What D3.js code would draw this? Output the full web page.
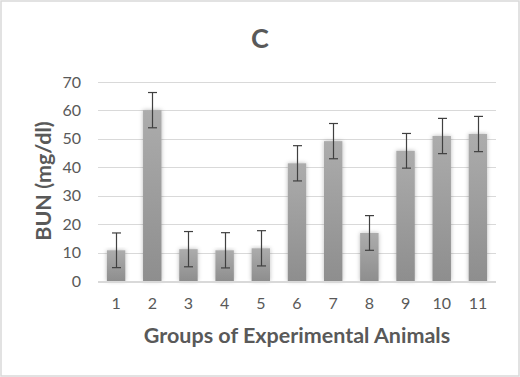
<!DOCTYPE html>
<html><head><meta charset="utf-8">
<script src="https://cdn.jsdelivr.net/npm/d3@7"></script>
<style>
html,body{margin:0;padding:0;background:#fff;}
svg{display:block;}
text{font-family:Lato,"Open Sans",sans-serif;fill:#595959;}
</style></head>
<body>
<svg id="c" width="520" height="377"></svg>
<script>
const groups = ["1","2","3","4","5","6","7","8","9","10","11"];
const bunMean = [10.8, 60.1, 11.2, 10.8, 11.5, 41.4, 49.2, 16.9, 45.8, 51.0, 51.7];
const bunErr  = [6.1, 6.2, 6.2, 6.2, 6.2, 6.2, 6.2, 6.1, 6.1, 6.2, 6.2];
const yTicks = [0,10,20,30,40,50,60,70];

const svg = d3.select("#c");
const W = 520, H = 377;
const m = {left:98, right:24, top:82, bottom:96};

svg.append("rect").attr("x",1).attr("y",1).attr("width",W-2).attr("height",H-2)
  .attr("fill","#fff").attr("stroke","#d9d9d9").attr("stroke-width",1.5);

const defs = svg.append("defs");
const grad = defs.append("linearGradient").attr("id","bg").attr("x1",0).attr("y1",0).attr("x2",0).attr("y2",1);
grad.append("stop").attr("offset","0%").attr("stop-color","#acacac");
grad.append("stop").attr("offset","100%").attr("stop-color","#8e8e8e");
const f = defs.append("filter").attr("id","sh").attr("x","-50%").attr("y","-10%").attr("width","200%").attr("height","120%");
f.append("feDropShadow").attr("dx",0).attr("dy",0).attr("stdDeviation",2.2)
  .attr("flood-color","#000").attr("flood-opacity",0.28);

const x = d3.scaleBand().domain(groups).range([m.left, W-m.right]).paddingInner(0.49).paddingOuter(0.245);
const y = d3.scaleLinear().domain([0,70]).range([H-m.bottom, m.top]);

// gridlines
svg.append("g").selectAll("line").data(yTicks.filter(d=>d>0)).join("line")
  .attr("x1",m.left).attr("x2",W-m.right)
  .attr("y1",d=>Math.round(y(d))+0.5).attr("y2",d=>Math.round(y(d))+0.5)
  .attr("stroke","#d9d9d9").attr("stroke-width",1);

// bars
svg.append("g").selectAll("rect").data(groups).join("rect")
  .attr("x",d=>x(d)).attr("width",x.bandwidth())
  .attr("y",(d,i)=>y(bunMean[i])).attr("height",(d,i)=>y(0)-y(bunMean[i]))
  .attr("fill","url(#bg)").attr("filter","url(#sh)");

// baseline
svg.append("line").attr("x1",m.left).attr("x2",W-m.right)
  .attr("y1",y(0)+1).attr("y2",y(0)+1).attr("stroke","#d9d9d9").attr("stroke-width",2);

// error bars
const eg = svg.append("g").attr("stroke","#404040").attr("stroke-width",1.2);
groups.forEach((g,i)=>{
  const cx = Math.round(x(g)+x.bandwidth()/2)+0.5;
  const t = y(bunMean[i]+bunErr[i]), b = y(bunMean[i]-bunErr[i]);
  eg.append("line").attr("x1",cx).attr("x2",cx).attr("y1",t).attr("y2",b);
  eg.append("line").attr("x1",cx-4.5).attr("x2",cx+4.5).attr("y1",t).attr("y2",t);
  eg.append("line").attr("x1",cx-4.5).attr("x2",cx+4.5).attr("y1",b).attr("y2",b);
});

// y axis labels
const ya = svg.append("g").attr("transform",`translate(${m.left-17},0)`)
  .call(d3.axisLeft(y).tickValues(yTicks).tickSize(0).tickPadding(0));
ya.select(".domain").remove();
ya.selectAll("text").attr("font-size",16).attr("fill","#595959").style("font-family","Lato,'Open Sans',sans-serif");

// x axis labels
const xa = svg.append("g").attr("transform",`translate(0,${y(0)+17})`)
  .call(d3.axisBottom(x).tickSize(0).tickPadding(0));
xa.select(".domain").remove();
xa.selectAll("text").attr("font-size",16).attr("fill","#595959").style("font-family","Lato,'Open Sans',sans-serif");

// titles
svg.append("text").attr("x",260).attr("y",48).attr("text-anchor","middle")
  .attr("font-size",27).attr("font-weight","bold").text("C");
svg.append("text").attr("x",297).attr("y",343).attr("text-anchor","middle")
  .attr("font-size",21.5).attr("font-weight","bold").text("Groups of Experimental Animals");
svg.append("text").attr("transform","translate(51,181) rotate(-90)").attr("text-anchor","middle")
  .attr("font-size",21.5).attr("font-weight","bold").text("BUN (mg/dl)");
</script>
</body></html>
